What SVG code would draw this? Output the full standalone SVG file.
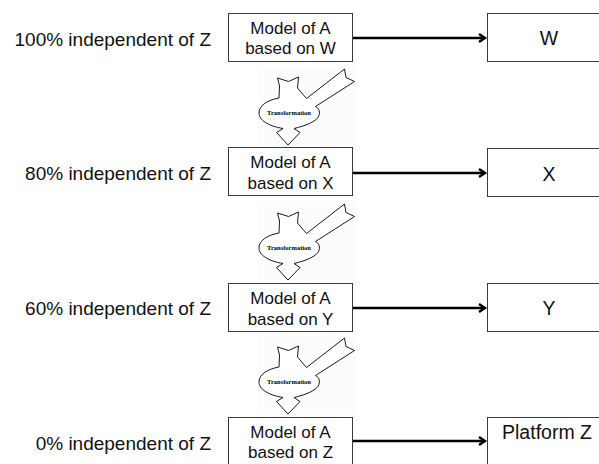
<svg xmlns="http://www.w3.org/2000/svg" width="599" height="464" viewBox="0 0 599 464">
<defs>
<style>
.box{fill:#fff;stroke:#3a3a3a;stroke-width:1}
.lbl{font-family:"Liberation Sans",Arial,sans-serif;font-size:19px;fill:#111}
.mt{font-family:"Liberation Sans",Arial,sans-serif;font-size:17px;fill:#111;text-anchor:middle}
.rt{font-family:"Liberation Sans",Arial,sans-serif;font-size:19.5px;fill:#111;text-anchor:middle}
.conn{stroke:#000;stroke-width:2.6;fill:none}
.shape{fill:#fff;stroke:#000;stroke-width:0.9;stroke-linejoin:miter}
.tt{font-family:"Liberation Serif","Times New Roman",serif;font-size:6.5px;font-weight:bold;fill:#000;text-anchor:middle}
</style>
<marker id="arr" markerWidth="10" markerHeight="10" refX="7" refY="5" orient="auto" markerUnits="userSpaceOnUse">
<path d="M1,1 L7,5 L1,9" fill="none" stroke="#000" stroke-width="2.4"/>
</marker>
<g id="icon">
<rect x="257" y="66" width="100" height="80" fill="#fcfcfc"/>
<path class="shape" d="M279,98 L279.5,86 L277.5,78 L288.5,81.5 L298.5,77 L297.5,88 L306.5,98.5 L344.5,69 L346,77.5 L354.5,81.5 L315.5,106.5 C321,109 321,117 314,121 C308,125 300,127 294,128.5 L300,132.5 L288,145 L276.5,132.5 L283,128.5 C268,126 259,120 259,113 C259,105 268,100 279,98 Z"/>
<text class="tt" x="289" y="115">Transformation</text>
</g>
</defs>

<g id="labels">
<text class="lbl" x="211" y="45.5" text-anchor="end">100% independent of Z</text>
<text class="lbl" x="211" y="180" text-anchor="end">80% independent of Z</text>
<text class="lbl" x="211" y="315" text-anchor="end">60% independent of Z</text>
<text class="lbl" x="211" y="450" text-anchor="end">0% independent of Z</text>
</g>

<g id="transformations">
<use href="#icon"/>
<use href="#icon" transform="translate(0,135)"/>
<use href="#icon" transform="translate(0,269)"/>
</g>

<g id="connectors">
<line class="conn" x1="353" y1="38" x2="485" y2="38" marker-end="url(#arr)"/>
<line class="conn" x1="353" y1="173" x2="485" y2="173" marker-end="url(#arr)"/>
<line class="conn" x1="353" y1="308" x2="485" y2="308" marker-end="url(#arr)"/>
<line class="conn" x1="353" y1="441" x2="485" y2="441" marker-end="url(#arr)"/>
</g>

<g id="model-w">
<rect class="box" x="228.5" y="13.5" width="124" height="48"/>
<text class="mt" x="290.5" y="34">Model of A</text>
<text class="mt" x="290.5" y="54">based on W</text>
</g>
<g id="model-x">
<rect class="box" x="228.5" y="147.5" width="124" height="48"/>
<text class="mt" x="290.5" y="168">Model of A</text>
<text class="mt" x="290.5" y="188.5">based on X</text>
</g>
<g id="model-y">
<rect class="box" x="228.5" y="283.5" width="124" height="48"/>
<text class="mt" x="290.5" y="304">Model of A</text>
<text class="mt" x="290.5" y="324.5">based on Y</text>
</g>
<g id="model-z">
<rect class="box" x="228.5" y="417.5" width="124" height="52"/>
<text class="mt" x="290.5" y="438">Model of A</text>
<text class="mt" x="290.5" y="457.5">based on Z</text>
</g>

<g id="w">
<rect class="box" x="487.5" y="13.5" width="124" height="48"/>
<text class="rt" x="549" y="44.5">W</text>
</g>
<g id="x">
<rect class="box" x="487.5" y="148.5" width="124" height="48"/>
<text class="rt" x="549" y="180.5">X</text>
</g>
<g id="y">
<rect class="box" x="487.5" y="283.5" width="124" height="48"/>
<text class="rt" x="549" y="315">Y</text>
</g>
<g id="platform-z">
<rect class="box" x="487.5" y="417.5" width="124" height="52"/>
<text class="rt" x="547" y="439">Platform Z</text>
</g>
</svg>
